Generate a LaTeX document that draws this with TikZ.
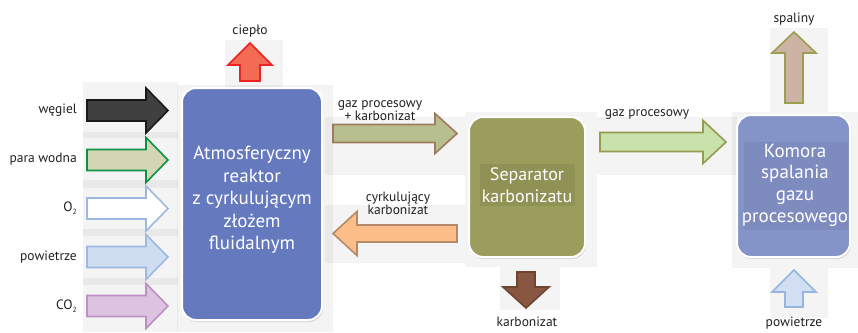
\documentclass[tikz,border=0pt]{standalone}
\usepackage{fontspec}
\setmainfont{PT Sans}
\usetikzlibrary{shadows}
\definecolor{txt}{HTML}{231F20}
\definecolor{reactorC}{HTML}{6479BE}
\definecolor{sepC}{HTML}{9B9D5D}
\definecolor{sepBand}{HTML}{8F9155}
\definecolor{komC}{HTML}{8494C8}
\definecolor{komBand}{HTML}{7D8BBF}
% arrows: horizontal / vertical block arrows
% #1 style, #2 start, #3 tip, #4 cross position, #5 body half, #6 head half, #7 signed head length
\newcommand\ArrH[7]{\draw[#1] ({#2},{#4-#5}) -- ({#3-(#7)},{#4-#5}) -- ({#3-(#7)},{#4-#6}) -- ({#3},{#4}) -- ({#3-(#7)},{#4+#6}) -- ({#3-(#7)},{#4+#5}) -- ({#2},{#4+#5}) -- cycle;}
\newcommand\ArrV[7]{\draw[#1] ({#4-#5},{#2}) -- ({#4-#5},{#3-(#7)}) -- ({#4-#6},{#3-(#7)}) -- ({#4},{#3}) -- ({#4+#6},{#3-(#7)}) -- ({#4+#5},{#3-(#7)}) -- ({#4+#5},{#2}) -- cycle;}
\newcommand\BG[4]{\fill[black,opacity=0.045] (#1,#2) rectangle (#3,#4);}
\tikzset{
  lbl/.style={text=txt,font=\fontsize{13.5}{14}\selectfont,inner sep=0pt,align=center},
  box/.style={draw=white,line width=2pt,rounded corners=14pt,
    drop shadow={opacity=0.25,shadow xshift=1pt,shadow yshift=-2pt}},
  boxtxt/.style={text=white,font=\fontsize{19}{22.5}\selectfont,align=center,inner sep=0pt},
  arr/.style={line width=1.6pt,line join=miter},
}
\begin{document}
\begin{tikzpicture}[x=1pt,y=-1pt]
\useasboundingbox (0,0) rectangle (858,332);
% background panels
\BG{83}{82}{178}{138}
\BG{83}{132}{178}{188}
\BG{83}{180}{178}{236}
\BG{83}{229}{178}{285}
\BG{83}{278}{178}{332}
\BG{177}{85}{333}{332}
\BG{225}{40}{283}{88}
\BG{325}{117}{465}{175}
\BG{325}{205}{465}{263}
\BG{465}{112}{597}{267}
\BG{500}{267}{560}{310}
\BG{597}{117}{737}{175}
\BG{732}{112}{858}{268}
\BG{770}{28}{828}{112}
\BG{770}{268}{828}{318}
% input arrows
\ArrH{arr,draw=black!90,fill=black!75}{87}{168}{110.5}{10.5}{22.5}{22}
\ArrH{arr,draw={rgb,255:red,15;green,144;blue,70},fill={rgb,255:red,211;green,214;blue,181}}{87}{168}{160}{10.5}{22.5}{22}
\ArrH{arr,draw={rgb,255:red,157;green,185;blue,224},fill=white}{87}{168}{208.5}{10.5}{22.5}{22}
\ArrH{arr,draw={rgb,255:red,157;green,185;blue,224},fill={rgb,255:red,207;green,221;blue,241}}{87}{168}{257}{10.5}{22.5}{22}
\ArrH{arr,draw={rgb,255:red,190;green,143;blue,196},fill={rgb,255:red,220;green,195;blue,223}}{87}{168}{306}{10.5}{22.5}{22}
\node[lbl,anchor=east] (lwegiel) at (77,110) {węgiel};
\node[lbl,anchor=east] (lpara) at (77,159) {para wodna};
\node[lbl,anchor=east] (lo2) at (77,208) {O\raisebox{-0.45ex}{\fontsize{7.5}{8}\selectfont 2}};
\node[lbl,anchor=east] (lpow) at (77,257) {powietrze};
\node[lbl,anchor=east] (lco2) at (77,306) {CO\raisebox{-0.45ex}{\fontsize{7.5}{8}\selectfont 2}};
% reactor
\node[box,fill=reactorC,minimum width=140pt,minimum height=232pt] (reactor) at (252,204) {};
\node[boxtxt] (reactortxt) at (252,200) {Atmosferyczny\\reaktor\\z cyrkulującym\\złożem\\fluidalnym};
% heat
\ArrV{arr,draw={rgb,255:red,236;green,34;blue,36},fill={rgb,255:red,242;green,107;blue,82}}{81}{43}{250}{10}{22}{-22}
\node[lbl] (lcieplo) at (250,31) {ciepło};
% gas + char
\ArrH{arr,draw={rgb,255:red,160;green,122;blue,94},fill={rgb,255:red,183;green,191;blue,142}}{333}{457}{133.5}{9}{20}{22}
\node[lbl,font=\fontsize{13.5}{13}\selectfont] (lgk) at (380,111) {gaz procesowy\\+ karbonizat};
% circulating char
\ArrH{arr,draw={rgb,255:red,180;green,138;blue,105},fill={rgb,255:red,253;green,189;blue,136}}{457}{333}{233.5}{8.5}{22}{-24}
\node[lbl,font=\fontsize{13.5}{13}\selectfont] (lcyrk) at (398,203) {cyrkulujący\\karbonizat};
% separator
\node[box,fill=sepC,minimum width=116pt,minimum height=140pt] (sep) at (527,187) {};
\fill[sepBand] (480,164) rectangle (575,206);
\node[boxtxt,font=\fontsize{18}{22}\selectfont] (septxt) at (527,185) {Separator\\karbonizatu};
% char out
\ArrV{arr,draw={rgb,255:red,110;green,68;blue,50},fill={rgb,255:red,137;green,86;blue,65}}{272}{308}{526}{9}{23}{21}
\node[lbl] (lkarb) at (527,322) {karbonizat};
% process gas
\ArrH{arr,draw={rgb,255:red,149;green,155;blue,79},fill={rgb,255:red,201;green,225;blue,170}}{600}{726}{142}{9.5}{21.5}{23}
\node[lbl] (lgaz) at (647,114) {gaz procesowy};
% combustion chamber
\node[box,fill=komC,minimum width=113pt,minimum height=142pt] (kom) at (793.5,186) {};
\fill[komBand] (744,142) rectangle (848,230);
\node[boxtxt,font=\fontsize{19}{21.7}\selectfont] (komtxt) at (795,185) {Komora\\spalania\\gazu\\procesowego};
% flue gas
\ArrV{arr,draw={rgb,255:red,154;green,160;blue,80},fill={rgb,255:red,205;green,179;blue,164}}{103}{32}{794}{9}{22}{-21}
\node[lbl] (lspal) at (794,19) {spaliny};
% air
\ArrV{arr,draw={rgb,255:red,148;green,182;blue,224},fill={rgb,255:red,210;green,222;blue,242}}{307}{270}{794}{9}{22}{-22}
\node[lbl] (lpow2) at (794,323) {powietrze};
\end{tikzpicture}
\end{document}
